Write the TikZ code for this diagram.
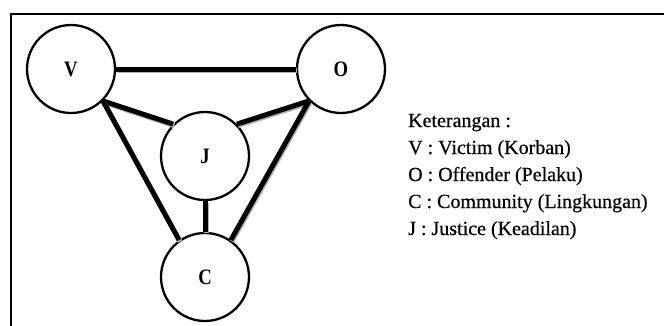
\documentclass[tikz,border=0pt]{standalone}
\usepackage{fontspec}
\setmainfont{Liberation Serif}
\newfontfamily\legendfont[FakeBold=0.5]{Liberation Serif}
\newfontfamily\labelfont[FakeStretch=0.85]{Liberation Serif}
\begin{document}
\begin{tikzpicture}[x=1pt,y=-1pt,
  circ/.style={circle, draw, line width=2.3pt, minimum size=88pt, inner sep=0pt,
    font=\labelfont\fontsize{22}{22}\selectfont\bfseries},
  conn/.style={line width=5pt,
    preaction={draw=black!30, line width=5pt, transform canvas={shift={(1pt,-1.5pt)}}}},
  legend/.style={anchor=base west, inner sep=0pt, font=\legendfont\fontsize{20}{20}\selectfont}]
\useasboundingbox (0,0) rectangle (664,325);
\clip (0,0) rectangle (664,325);
\fill[white] (0,0) rectangle (664,325);
\draw[line width=2pt] (11,340) -- (11,14) -- (680,14);
\node[circ] (V) at (71,69) {V};
\node[circ] (O) at (341,69) {O};
\node[circ] (J) at (205,156) {J};
\node[circ] (C) at (205,277) {C};
\draw[conn] (V.east) -- (O.west);
\draw[conn] (V.-45) -- (J.135);
\draw[conn] (V.-45) -- (C.125);
\draw[conn] (O.225) -- (J.45);
\draw[conn] (O.225) -- (C.55);
\draw[conn] (J.south) -- (C.north);
\node[legend] (k) at (408,127) {Keterangan :};
\node[legend] (lv) at (408,154) {V : Victim (Korban)};
\node[legend] (lo) at (408,181) {O : Offender (Pelaku)};
\node[legend] (lc) at (408,208) {C : Community (Lingkungan)};
\node[legend] (lj) at (408,235) {J : Justice (Keadilan)};
\end{tikzpicture}
\end{document}
